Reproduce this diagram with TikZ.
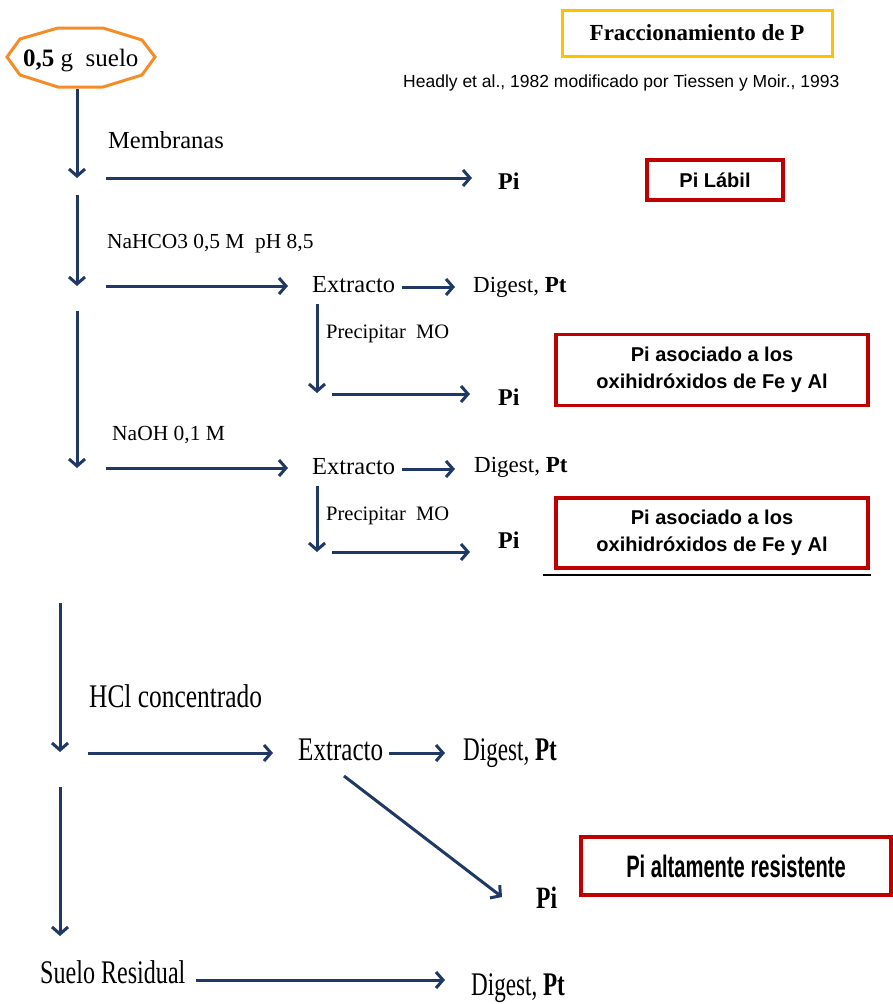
\documentclass[tikz,border=0pt]{standalone}
\usepackage{fontspec}
\usepackage{graphicx}
\setmainfont{Liberation Serif}
\setsansfont{Liberation Sans}
\usetikzlibrary{arrows.meta}
\definecolor{azulflecha}{RGB}{31,56,100}
\definecolor{rojocaja}{RGB}{192,0,0}
\definecolor{naranja}{RGB}{244,140,40}
\definecolor{amarillo}{RGB}{255,192,0}
\newcommand{\tam}[1]{\fontsize{#1}{#1}\selectfont}
\newcommand{\estrecho}[2]{\scalebox{#1}[1]{#2}}

\begin{document}
\begin{tikzpicture}[x=1pt,y=-1pt,
  flecha/.style={azulflecha,line width=3pt,-{Straight Barb[length=7pt,width=16pt]}},
  caja/.style={draw=rojocaja,line width=3.5pt},
  txt/.style={anchor=base west,inner sep=0pt}]
\useasboundingbox (0,0) rectangle (893,1004);
% titulo y referencia
  \node[draw=amarillo,line width=3pt,minimum width=270pt,minimum height=46pt,
        font=\tam{23}\bfseries] (Titulo) at (697,33) {Fraccionamiento de P};
  \node[txt,font=\sffamily\tam{17.5}] (Cita) at (403,87)
        {Headly et al., 1982 modificado por Tiessen y Moir., 1993};
% muestra inicial
  \draw[naranja,line width=3pt] (7,57) -- (20,39) -- (58,28) -- (103,28) -- (142,40)
        -- (155,57) -- (142,75) -- (103,87) -- (58,87) -- (20,75) -- cycle;
  \node[txt,font=\tam{25}] (Muestra) at (23,66) {\textbf{0,5} g~~suelo};
% columna principal
   \coordinate (c0) at (77,89);  \coordinate (c1) at (77,178);
   \coordinate (c2) at (77,195); \coordinate (c3) at (77,286);
   \coordinate (c4) at (77,311); \coordinate (c5) at (77,468);
   \coordinate (c6) at (60,603); \coordinate (c7) at (60,752);
   \coordinate (c8) at (60,787); \coordinate (c9) at (60,936);
  \draw[flecha] (c0) -- (c1);
  \draw[flecha] (c2) -- (c3);
  \draw[flecha] (c4) -- (c5);
  \draw[flecha] (c6) -- (c7);
  \draw[flecha] (c8) -- (c9);
% membranas
  \node[txt,font=\tam{24.5}] (Membranas) at (108,148) {Membranas};
   \coordinate (m0) at (106,178); \coordinate (m1) at (472,178);
  \draw[flecha] (m0) -- (m1);
  \node[txt,font=\tam{24}\bfseries] (PiUno) at (498,189) {Pi};
  \node[caja,minimum width=136pt,minimum height=40pt,font=\sffamily\bfseries\tam{20}] (Labil) at (715,180) {Pi Lábil};
% NaHCO3
  \node[txt,font=\tam{21.4}] (Bicarb) at (107,248) {NaHCO3 0,5 M~~pH 8,5};
   \coordinate (b0) at (106,286); \coordinate (b1) at (288,286);
  \draw[flecha] (b0) -- (b1);
  \node[txt,font=\tam{24.5}] (ExtUno) at (312,292) {Extracto};
   \coordinate (b2) at (402,287); \coordinate (b3) at (455,287);
  \draw[flecha] (b2) -- (b3);
  \node[txt,font=\tam{23}] (DigUno) at (473,292) {Digest, \textbf{Pt}};
   \coordinate (b4) at (317,304); \coordinate (b5) at (317,393);
  \draw[flecha] (b4) -- (b5);
  \node[txt,font=\tam{20.5}] (PrecUno) at (326,338) {Precipitar~~MO};
   \coordinate (b6) at (332,394); \coordinate (b7) at (470,394);
  \draw[flecha] (b6) -- (b7);
  \node[txt,font=\tam{24}\bfseries] (PiDos) at (498,405) {Pi};
  \node[caja,minimum width=312pt,minimum height=71pt,align=center,
        font=\sffamily\bfseries\fontsize{20}{27}\selectfont] (FeAlUno) at (712,370)
        {Pi asociado a los\\oxihidróxidos de Fe y Al};
% NaOH
  \node[txt,font=\tam{21.5}] (Sosa) at (112,440) {NaOH 0,1 M};
   \coordinate (s0) at (106,468); \coordinate (s1) at (288,468);
  \draw[flecha] (s0) -- (s1);
  \node[txt,font=\tam{24.5}] (ExtDos) at (312,474) {Extracto};
   \coordinate (s2) at (402,469); \coordinate (s3) at (455,469);
  \draw[flecha] (s2) -- (s3);
  \node[txt,font=\tam{23}] (DigDos) at (474,472) {Digest, \textbf{Pt}};
   \coordinate (s4) at (317,486); \coordinate (s5) at (317,552);
  \draw[flecha] (s4) -- (s5);
  \node[txt,font=\tam{20.5}] (PrecDos) at (326,520) {Precipitar~~MO};
   \coordinate (s6) at (332,552); \coordinate (s7) at (470,552);
  \draw[flecha] (s6) -- (s7);
  \node[txt,font=\tam{24}\bfseries] (PiTres) at (498,548) {Pi};
  \node[caja,minimum width=312pt,minimum height=70pt,align=center,
        font=\sffamily\bfseries\fontsize{20}{27}\selectfont] (FeAlDos) at (712,533)
        {Pi asociado a los\\oxihidróxidos de Fe y Al};
   \coordinate (l0) at (543,575); \coordinate (l1) at (871,575);
  \draw[line width=1.6pt] (l0) -- (l1);
% HCl
  \node[txt,font=\tam{33}] (Clorh) at (89,707) {\estrecho{0.77}{HCl concentrado}};
   \coordinate (h0) at (88,753); \coordinate (h1) at (273,753);
  \draw[flecha] (h0) -- (h1);
  \node[txt,font=\tam{33}] (ExtTres) at (298,760) {\estrecho{0.76}{Extracto}};
   \coordinate (h2) at (389,753); \coordinate (h3) at (445,753);
  \draw[flecha] (h2) -- (h3);
  \node[txt,font=\tam{33}] (DigTres) at (463,760) {\estrecho{0.70}{Digest, \textbf{Pt}}};
   \coordinate (h4) at (344,776); \coordinate (h5) at (502,897);
  \draw[flecha] (h4) -- (h5);
  \node[txt,font=\tam{31}\bfseries] (PiCuatro) at (536,908) {\estrecho{0.76}{Pi}};
  \node[caja,minimum width=310pt,minimum height=58pt,font=\sffamily\bfseries] (Resist) at (736,866)
        {\tam{31}\estrecho{0.65}{Pi altamente resistente}};
% suelo residual
  \node[txt,font=\tam{33}] (Residuo) at (40,983) {\estrecho{0.73}{Suelo Residual}};
   \coordinate (r0) at (196,980); \coordinate (r1) at (445,980);
  \draw[flecha] (r0) -- (r1);
  \node[txt,font=\tam{33}] (DigCuatro) at (471,995) {\estrecho{0.70}{Digest, \textbf{Pt}}};
\end{tikzpicture}
\end{document}
